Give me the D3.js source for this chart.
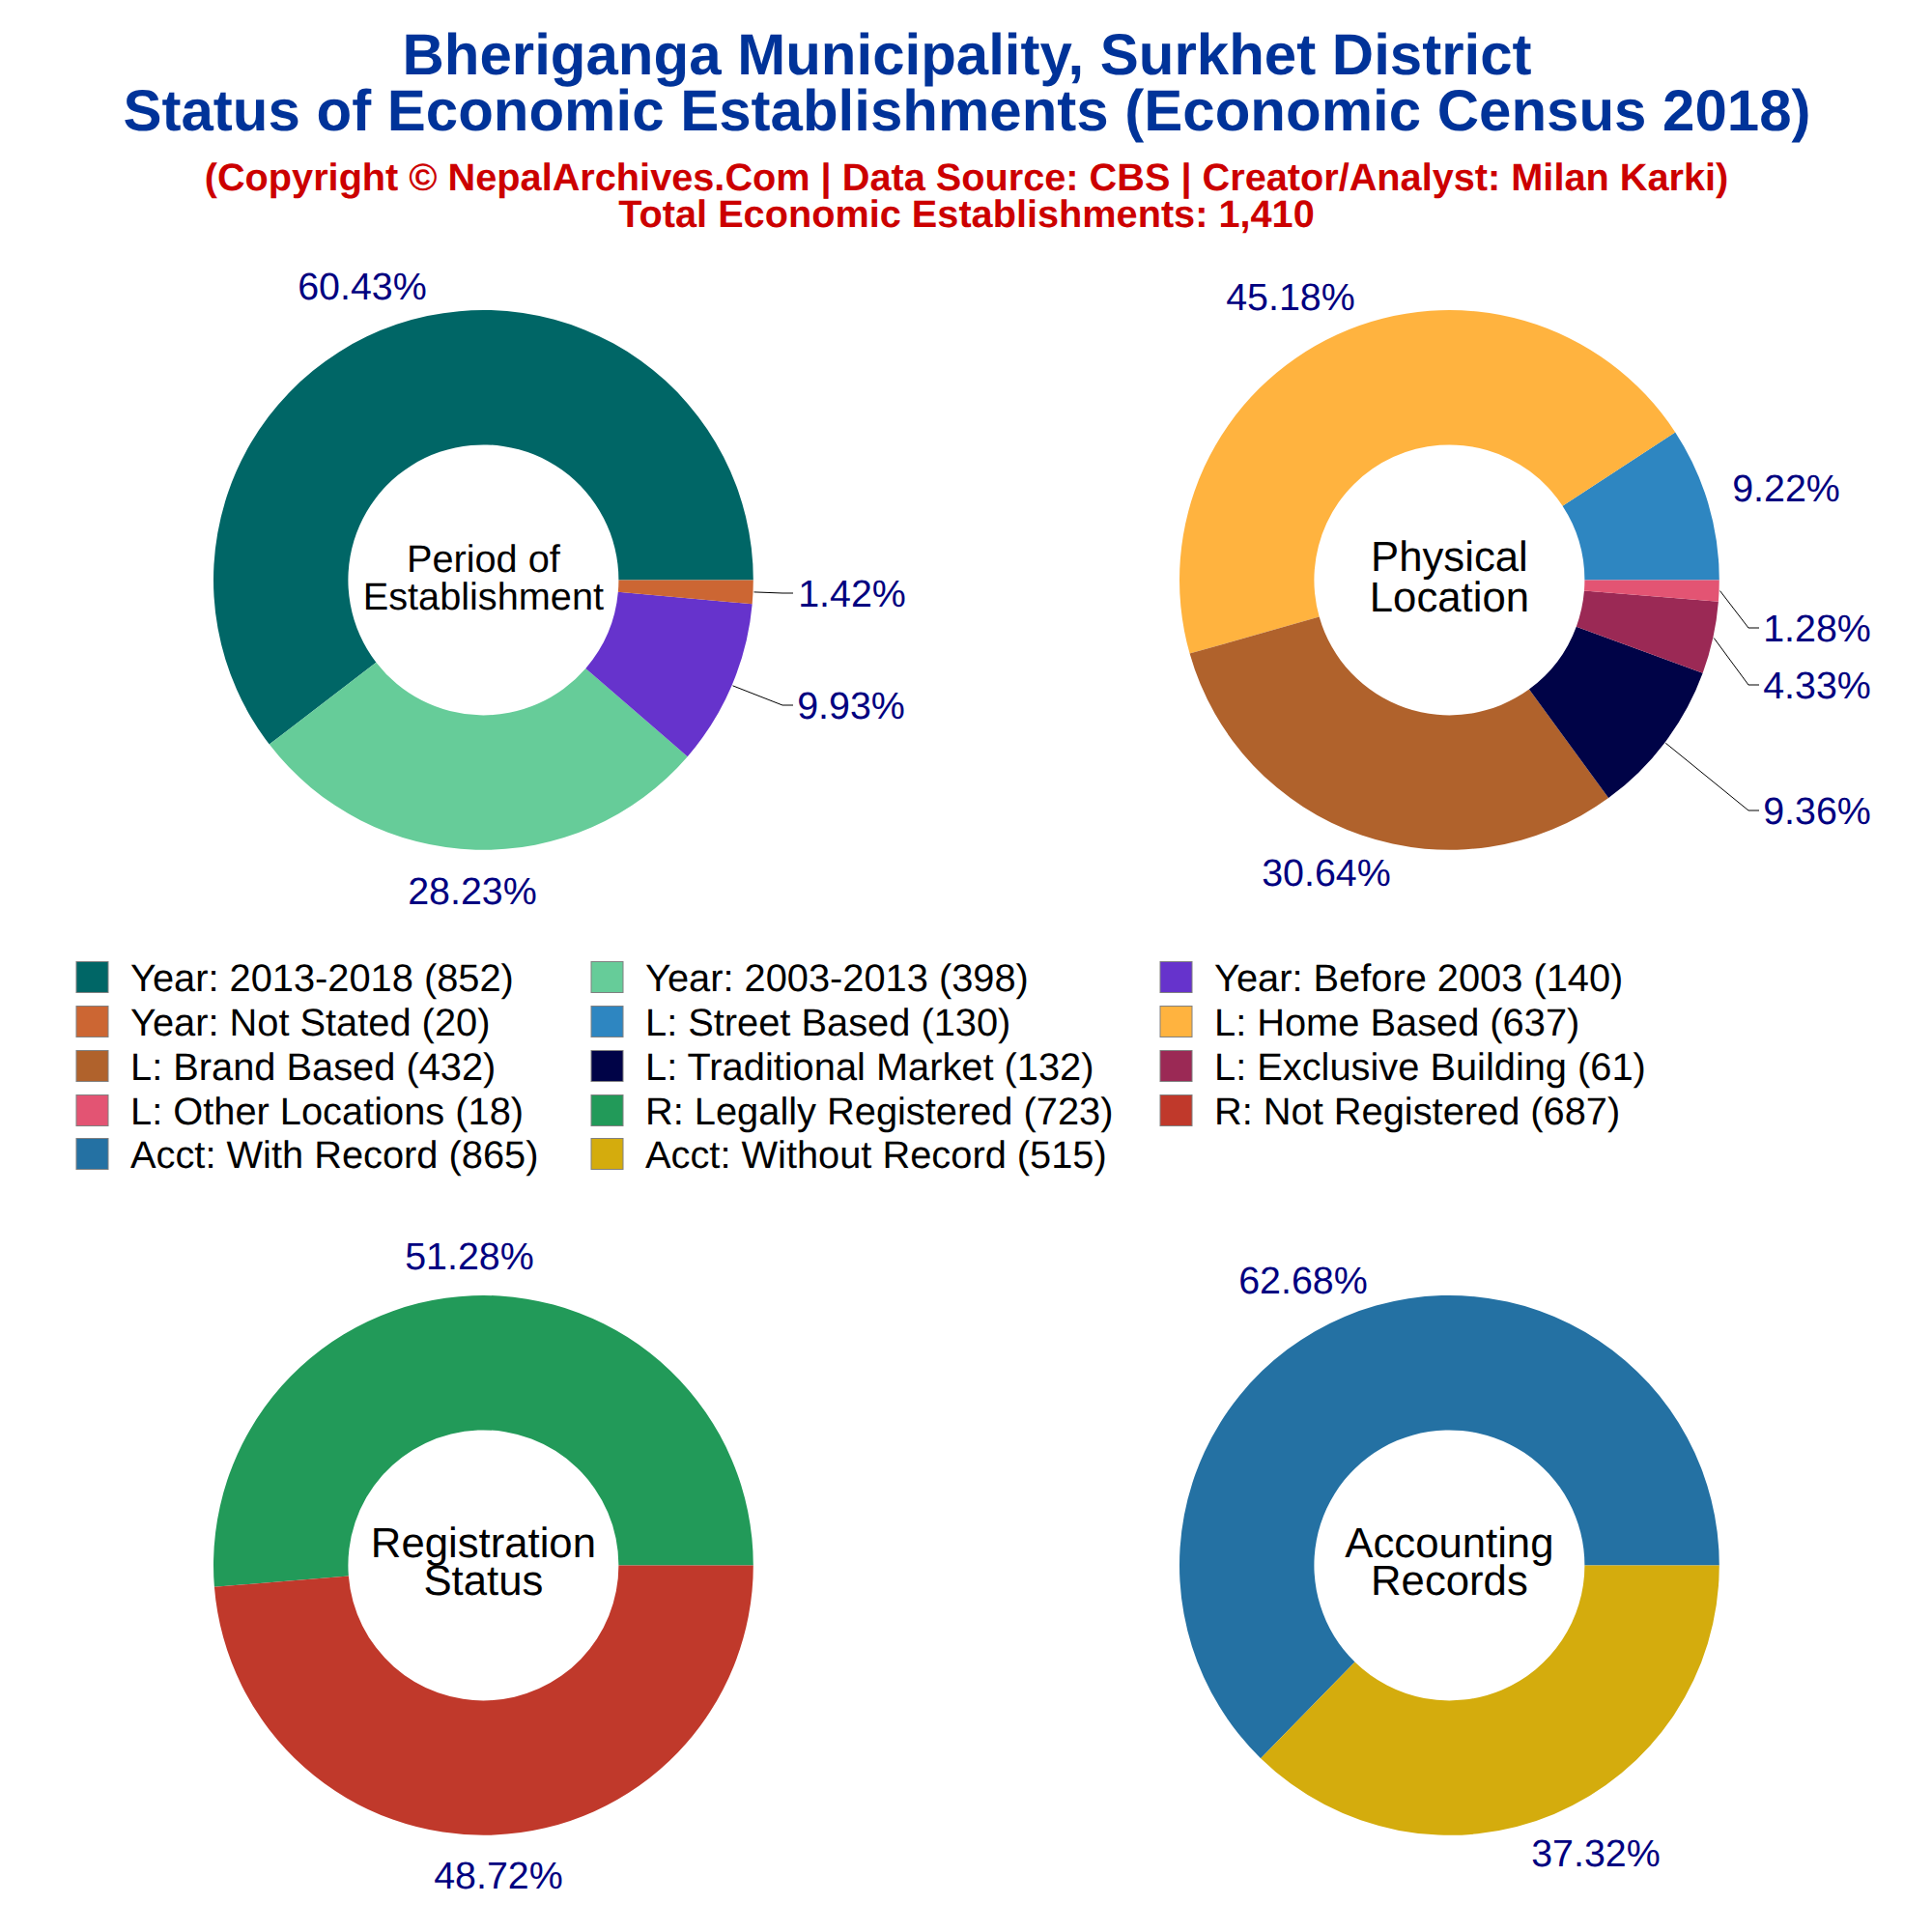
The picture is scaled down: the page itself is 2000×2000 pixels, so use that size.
<!DOCTYPE html>
<html><head><meta charset="utf-8">
<script src="https://cdn.jsdelivr.net/npm/d3@7"></script>
<style>html,body{margin:0;padding:0;background:#fff}svg{display:block}text{font-family:"Liberation Sans",Arial,sans-serif;text-rendering:geometricPrecision}</style>
</head><body><svg id="c" width="2000" height="2000"></svg>
<script>
// ---- data ----
const periodLabels = ["Year: 2013-2018","Year: 2003-2013","Year: Before 2003","Year: Not Stated"];
const periodValues = [852,398,140,20];
const periodColors = ["#006666","#66CC99","#6633CC","#CC6633"];
const locationLabels = ["L: Street Based","L: Home Based","L: Brand Based","L: Traditional Market","L: Exclusive Building","L: Other Locations"];
const locationValues = [130,637,432,132,61,18];
const locationColors = ["#2E86C1","#FFB33F","#B0622C","#000347","#9B2955","#E35473"];
const registrationLabels = ["R: Legally Registered","R: Not Registered"];
const registrationValues = [723,687];
const registrationColors = ["#229A59","#C0392B"];
const accountingLabels = ["Acct: With Record","Acct: Without Record"];
const accountingValues = [865,515];
const accountingColors = ["#2471A3","#D4AC0D"];
const titleLines = ["Bheriganga Municipality, Surkhet District","Status of Economic Establishments (Economic Census 2018)"];
const subtitleLines = ["(Copyright © NepalArchives.Com | Data Source: CBS | Creator/Analyst: Milan Karki)","Total Economic Establishments: 1,410"];

// ---- layout ----
const svg = d3.select("#c");
const R = 279.4, r0 = 140, LABEL = 39.4, LEGEND = 39.8;
const panels = [
 {name:["Period of","Establishment"],lab:periodLabels,val:periodValues,col:periodColors,cx:500.4,cy:600.4,fs:39.7,cys:[577.5,616.5],
  pos:[[375,296],[489,922],[881,730],[882,614]],lead:{2:[810,730,821,730],3:[810,614,821,614]}},
 {name:["Physical","Location"],lab:locationLabels,val:locationValues,col:locationColors,cx:1500.4,cy:600.4,fs:43.7,cys:[575.5,617.5],
  pos:[[1849,505],[1336,307],[1373,903],[1881,839],[1881,709],[1881,650]],lead:{3:[1810,839,1821,839],4:[1810,709,1821,709],5:[1810,650,1821,650]}},
 {name:["Registration","Status"],lab:registrationLabels,val:registrationValues,col:registrationColors,cx:500.4,cy:1620.4,fs:43.7,cys:[1596,1635.5],
  pos:[[486,1300],[516,1941]],lead:{}},
 {name:["Accounting","Records"],lab:accountingLabels,val:accountingValues,col:accountingColors,cx:1500.4,cy:1620.4,fs:43.7,cys:[1596,1635.5],
  pos:[[1349,1325],[1652,1918]],lead:{}}
];
const pie = d3.pie().sort(null).startAngle(Math.PI/2).endAngle(Math.PI/2-2*Math.PI);
const arc = d3.arc().innerRadius(r0).outerRadius(R);
const edge = d3.arc().innerRadius(R+1).outerRadius(R+1);
const pct = d3.format(".2f");

svg.selectAll("text.title").data(titleLines).join("text").attr("class","title")
 .attr("x",1001).attr("y",(d,i)=>76.5+i*58.5).attr("text-anchor","middle")
 .attr("font-weight","bold").attr("font-size",60).attr("fill","#003399").text(d=>d);
svg.selectAll("text.sub").data(subtitleLines).join("text").attr("class","sub")
 .attr("x",1000.5).attr("y",(d,i)=>196.7+i*38.3).attr("text-anchor","middle")
 .attr("font-weight","bold").attr("font-size",39.7).attr("fill","#CC0000").text(d=>d);

panels.forEach(p=>{
  const g = svg.append("g").attr("transform",`translate(${p.cx},${p.cy})`);
  const arcs = pie(p.val);
  const total = d3.sum(p.val);
  g.selectAll("path").data(arcs).join("path").attr("d",arc).attr("fill",(d,i)=>p.col[i]);
  Object.keys(p.lead).forEach(k=>{
    const c = edge.centroid(arcs[k]), l = p.lead[k];
    svg.append("polyline").attr("fill","none").attr("stroke","#000").attr("stroke-width",1)
      .attr("points",[[p.cx+c[0],p.cy+c[1]],[l[0],l[1]],[l[2],l[3]]].join(" "));
  });
  svg.append("g").selectAll("text").data(arcs).join("text")
    .attr("x",(d,i)=>p.pos[i][0]).attr("y",(d,i)=>p.pos[i][1]).attr("dy","0.36em")
    .attr("text-anchor","middle").attr("font-size",LABEL).attr("fill","#000080")
    .text(d=>pct(d.value/total*100)+"%");
  svg.append("g").selectAll("text").data(p.name).join("text")
    .attr("x",p.cx).attr("y",(d,i)=>p.cys[i]).attr("dy","0.36em").attr("text-anchor","middle")
    .attr("font-size",p.fs).attr("fill","#000").text(d=>d);
});

// legend: three columns, filled row by row
const legendItems = panels.flatMap(p=>p.lab.map((l,i)=>({t:`${l} (${p.val[i]})`,c:p.col[i]})));
const colX = [79,612,1201], rowY = [1011.5,1057.5,1103.5,1149.5,1194.5];
const lg = svg.append("g").selectAll("g").data(legendItems).join("g")
  .attr("transform",(d,i)=>`translate(${colX[i%3]},${rowY[Math.floor(i/3)]})`);
lg.append("rect").attr("x",0).attr("y",-16).attr("width",33).attr("height",32)
  .attr("fill",d=>d.c).attr("stroke","#808080").attr("stroke-width",1);
lg.append("text").attr("x",56).attr("dy","0.36em").attr("font-size",LEGEND).attr("fill","#000").text(d=>d.t);
</script></body></html>
